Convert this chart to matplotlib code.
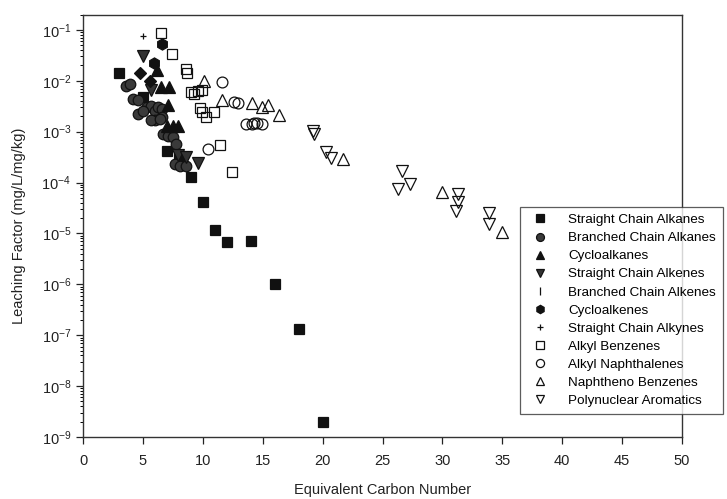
import matplotlib
matplotlib.use('Agg')
import matplotlib.pyplot as plt
from matplotlib.lines import Line2D
from matplotlib.ticker import LogLocator, LogFormatterSciNotation, NullFormatter

plt.rcParams['font.family'] = ['Liberation Sans', 'DejaVu Sans']
plt.rcParams['mathtext.default'] = 'regular'

# --- data (x = equivalent carbon number, y = leaching factor) ---
sc_alkanes_x = [3, 5, 7, 8, 9, 10, 11, 12, 14, 16, 18, 20]
sc_alkanes_y = [1.4e-2, 4.7e-3, 4.1e-4, 3.2e-4, 1.26e-4, 4.2e-5, 1.17e-5, 6.8e-6, 7.0e-6, 1.0e-6, 1.3e-7, 2.0e-9]

bc_alkanes_x = [3.6, 3.9, 4.2, 4.6, 5.3, 5.7, 6.0, 6.3, 6.6, 4.6, 5.0, 6.0, 6.6, 5.7, 6.4,
                6.7, 7.1, 7.5, 7.8, 7.7, 8.1, 8.6]
bc_alkanes_y = [7.9e-3, 8.7e-3, 4.4e-3, 4.1e-3, 3.0e-3, 3.2e-3, 2.6e-3, 3.0e-3, 2.8e-3, 2.2e-3, 2.6e-3,
                1.7e-3, 1.9e-3, 1.7e-3, 1.8e-3, 9.0e-4, 8.3e-4, 7.8e-4, 5.8e-4, 2.3e-4, 2.1e-4, 2.1e-4]

cycloalkanes_x = [6.2, 6.5, 7.2, 7.1, 7.0, 7.5, 7.9]
cycloalkanes_y = [1.6e-2, 7.5e-3, 7.5e-3, 3.4e-3, 1.3e-3, 1.3e-3, 1.3e-3]

sc_alkenes_x = [5.0, 5.7, 7.9, 8.6, 9.6]
sc_alkenes_y = [3.1e-2, 6.5e-3, 3.4e-4, 3.2e-4, 2.4e-4]

bc_alkenes_x = [4.75, 5.6]
bc_alkenes_y = [1.4e-2, 1.0e-2]

cycloalkenes_x = [6.6, 5.9]
cycloalkenes_y = [5.2e-2, 2.2e-2]

sc_alkynes_x = [5.0]
sc_alkynes_y = [7.6e-2]

alkyl_benz_x = [6.5, 7.4, 8.6, 8.7, 9.05, 9.3, 9.6, 9.9, 9.75, 9.9, 10.9, 10.3, 11.4, 12.4]
alkyl_benz_y = [8.5e-2, 3.3e-2, 1.7e-2, 1.4e-2, 5.9e-3, 5.5e-3, 6.3e-3, 6.6e-3, 2.9e-3, 2.4e-3,
                2.4e-3, 1.9e-3, 5.4e-4, 1.6e-4]

alkyl_naph_x = [11.6, 12.6, 12.9, 10.4, 13.6, 14.1, 14.3, 14.5, 14.9]
alkyl_naph_y = [9.3e-3, 3.8e-3, 3.6e-3, 4.5e-4, 1.4e-3, 1.4e-3, 1.5e-3, 1.5e-3, 1.4e-3]

naphtheno_x = [10.1, 11.6, 14.1, 14.9, 15.4, 16.4, 21.7, 30.0, 35.0]
naphtheno_y = [1.0e-2, 4.2e-3, 3.6e-3, 3.0e-3, 3.4e-3, 2.1e-3, 2.9e-4, 6.6e-5, 1.07e-5]

pna_x = [19.2, 19.3, 20.3, 20.7, 26.6, 26.3, 27.3, 31.3, 31.3, 31.1, 33.9, 33.9]
pna_y = [1.05e-3, 9.0e-4, 3.9e-4, 3.0e-4, 1.7e-4, 7.6e-5, 9.3e-5, 6.0e-5, 4.1e-5, 2.8e-5, 2.5e-5, 1.55e-5]

labels = ['Straight Chain Alkanes', 'Branched Chain Alkanes', 'Cycloalkanes',
          'Straight Chain Alkenes', 'Branched Chain Alkenes', 'Cycloalkenes',
          'Straight Chain Alkynes', 'Alkyl Benzenes', 'Alkyl Naphthalenes',
          'Naphtheno Benzenes', 'Polynuclear Aromatics']

# label, x, y, marker, facecolor, markersize
series = [
    (labels[0], sc_alkanes_x, sc_alkanes_y, 's', '#111111', 7.2),
    (labels[1], bc_alkanes_x, bc_alkanes_y, 'o', '#3a3a3a', 7.6),
    (labels[2], cycloalkanes_x, cycloalkanes_y, '^', '#111111', 8),
    (labels[3], sc_alkenes_x, sc_alkenes_y, 'v', '#333333', 8),
    (labels[4], bc_alkenes_x, bc_alkenes_y, 'D', '#111111', 6.5),
    (labels[5], cycloalkenes_x, cycloalkenes_y, 'h', '#111111', 8),
    (labels[6], sc_alkynes_x, sc_alkynes_y, '+', '#111111', 5),
    (labels[7], alkyl_benz_x, alkyl_benz_y, 's', 'none', 7.2),
    (labels[8], alkyl_naph_x, alkyl_naph_y, 'o', 'none', 7.8),
    (labels[9], naphtheno_x, naphtheno_y, '^', 'none', 8.5),
    (labels[10], pna_x, pna_y, 'v', 'none', 8.5),
]

fig = plt.figure(figsize=(7.27, 4.99), dpi=100)
ax = fig.add_axes([0.1142, 0.1242, 0.8239, 0.8467])

handles = []
for lab, xs, ys, mk, fc, ms in series:
    ax.plot(xs, ys, linestyle='none', marker=mk, markersize=ms,
            markerfacecolor=fc, markeredgecolor='#111111', markeredgewidth=0.9)
    if lab == 'Branched Chain Alkenes':
        # legend shows this symbol as a thin vertical bar
        h = Line2D([], [], linestyle='none', marker='|', markersize=ms * 1.2,
                   markeredgecolor='#111111', markeredgewidth=0.9)
    else:
        h = Line2D([], [], linestyle='none', marker=mk, markersize=ms,
                   markerfacecolor=fc, markeredgecolor='#111111', markeredgewidth=0.9)
    handles.append(h)

ax.set_yscale('log')
ax.set_ylim(1e-9, 0.2)
ax.set_xlim(0, 50)
ax.set_xticks(range(0, 51, 5))
ax.yaxis.set_major_locator(LogLocator(base=10, numticks=20))
ax.yaxis.set_major_formatter(LogFormatterSciNotation())
ax.yaxis.set_minor_locator(LogLocator(base=10, subs=range(2, 10), numticks=20))
ax.yaxis.set_minor_formatter(NullFormatter())

ax.tick_params(axis='both', which='major', direction='out', length=5, width=0.9,
               labelsize=10.5, colors='#222222')
ax.tick_params(axis='x', which='major', pad=7)
ax.tick_params(axis='y', which='minor', direction='out', length=2.5, width=0.7)
ax.tick_params(top=False, right=False, which='both')
for sp in ax.spines.values():
    sp.set_linewidth(1.0)
    sp.set_color('#333333')

ax.set_xlabel('Equivalent Carbon Number', fontsize=10.5, color='#222222')
ax.set_ylabel('Leaching Factor (mg/L/mg/kg)', fontsize=10.5, color='#222222')
ax.xaxis.set_label_coords(0.5, -0.108)
ax.yaxis.set_label_coords(-0.095, 0.5)

leg = fig.legend(handles, labels, loc='upper left', bbox_to_anchor=(520 / 727, 1 - 207 / 499),
                 frameon=True, fancybox=False, edgecolor='#333333', fontsize=9.7,
                 labelspacing=0.42, handletextpad=1.1, borderpad=0.5, handlelength=2.0,
                 markerscale=0.75, borderaxespad=0)
leg.get_frame().set_linewidth(0.9)

fig.savefig('out.png', dpi=100)
